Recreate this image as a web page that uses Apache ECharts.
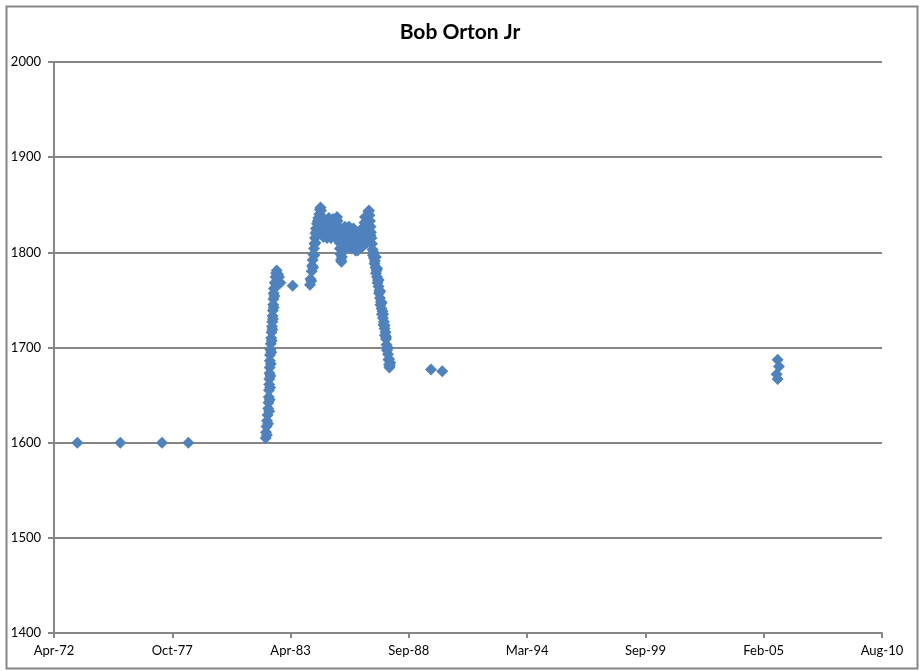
<!DOCTYPE html>
<html><head><meta charset="utf-8">
<script src="https://cdn.jsdelivr.net/npm/echarts@6/dist/echarts.min.js"></script>
<style>html,body{margin:0;padding:0;background:#fff}#c{width:920px;height:671px}</style>
</head><body><div id="c"></div>
<script>
const chartTitle = 'Bob Orton Jr';
// Dates stored as Excel serial day numbers (as in the source sheet)
const dateSerials = [
  26804,27531,28236,28681,
  29989,29995,30003,30012,30022,30033,30037,30041,30045,30048,
  30051,30054,30057,30060,30062,30068,30075,30082,30089,30096,
  30101,30106,30111,30116,30120,30125,30129,30142,30156,30166,
  30175,30197,30214,30239,30445,
  30738,30747,30767,30775,30784,30795,30806,30815,30823,30832,
  30840,30857,30879,30895,30907,30916,
  30924,30933,30941,30950,30958,30966,30975,30984,30992,31001,
  31009,31018,31026,31035,31043,31051,31059,31068,31076,31085,
  31093,31101,31110,31119,31127,31136,31144,31153,31161,31170,
  31178,31186,31195,31203,31212,31220,31228,31237,31245,31254,
  31262,31270,31279,31287,31296,31304,31313,31321,
  31330,31339,31347,31356,31364,31372,31381,31389,31397,31406,
  31414,31423,31431,31440,31448,31457,31465,31474,31482,31491,
  31499,31508,31516,31525,31533,31541,31550,31558,
  31566,31583,31600,31609,31617,31626,31634,31643,31651,31660,
  31668,31677,31685,31694,31702,31710,31719,31727,31735,31744,
  31752,31761,31769,31778,31786,31795,
  31803,31812,31820,31829,31837,31846,31854,31863,31871,31880,
  31888,31897,31905,31913,31921,31930,31938,31947,31955,31964,
  31972,31981,31989,31998,32006,32015,32023,32032,32040,32049,
  32057,32066,32074,32082,32090,
  32784,32975,38628,38645,38645,38667,
  30010,30030,30050,30058,30064,30070,30076,30084,30092,30102,
  30112,30124,30136,30150,30186,
  30760,30790,30812,30830,30850,30870,
  31650,31670,31700,31720,31740,31760,
  31850,31875,31900,31925,31950,31975,32000,32025,32050,32075,
  32095
];
const ratings = [
  1600,1600,1600,1600,
  1605,1611,1617,1623,1629,1636,1642,1648,1655,1661,
  1667,1673,1679,1686,1692,1698,1704,1710,1716,1722,
  1727,1733,1739,1745,1751,1757,1762,1768,1774,1778,
  1781,1777,1774,1768,1765,
  1766,1772,1780,1786,1792,1798,1804,1809,1815,1820,
  1825,1830,1836,1840,1845,1847,
  1844,1838,1832,1826,1820,1816,1822,1828,1833,1829,
  1823,1817,1815,1821,1827,1833,1836,1831,1825,1819,
  1815,1821,1827,1833,1835,1829,1823,1817,1816,1822,
  1828,1834,1837,1833,1828,1822,1816,1810,1804,1798,
  1792,1790,1795,1801,1807,1813,1819,1824,
  1827,1821,1815,1809,1805,1811,1817,1823,1827,1826,
  1820,1814,1808,1804,1810,1816,1822,1825,1819,1813,
  1807,1802,1806,1810,1806,1802,1803,1808,
  1812,1818,1824,1818,1812,1806,1812,1818,1825,1831,
  1837,1832,1826,1820,1826,1832,1838,1843,1844,1839,
  1833,1827,1821,1815,1809,1803,
  1797,1800,1794,1788,1791,1784,1778,1781,1774,1768,
  1771,1764,1757,1760,1752,1745,1748,1741,1735,1738,
  1731,1724,1727,1720,1713,1716,1709,1703,1697,1700,
  1693,1687,1682,1679,1681,
  1677,1675,1672,1687,1667,1680,
  1608,1620,1633,1645,1658,1670,1683,1695,1707,1719,
  1730,1742,1754,1763,1771,
  1770,1784,1797,1810,1822,1833,
  1808,1815,1810,1822,1828,1818,
  1795,1783,1771,1759,1747,1735,1723,1711,1699,1688,
  1684
];
const xTickLabels = ['Apr-72','Oct-77','Apr-83','Sep-88','Mar-94','Sep-99','Feb-05','Aug-10'];
const xAxisStartSerial = 26410; // serial of the Apr-72 tick
const xTickStep = 2000;         // days between ticks
const yMin = 1400, yMax = 2000, yStep = 100;

const points = dateSerials.map((d, i) => [d - xAxisStartSerial, ratings[i]]);
const gray = '#868686';
const font = 'Lato, "Liberation Sans", sans-serif';

const chart = echarts.init(document.getElementById('c'), null, {renderer: 'canvas'});
chart.setOption({
  animation: false,
  backgroundColor: '#fff',
  title: {
    text: chartTitle, left: 'center', top: 17,
    textStyle: {fontFamily: font, fontWeight: 'bold', fontSize: 21, color: '#000'}
  },
  graphic: [{
    type: 'rect', left: 4, top: 4, silent: true,
    shape: {x: 0, y: 0, width: 911, height: 662},
    style: {fill: 'none', stroke: gray, lineWidth: 2}
  }],
  grid: {left: 54, right: 38, top: 62, bottom: 38, containLabel: false},
  xAxis: {
    type: 'value', min: 0, max: xTickStep * (xTickLabels.length - 1), interval: xTickStep,
    axisLine: {show: true, lineStyle: {color: gray, width: 2}},
    axisTick: {show: true, length: 5, lineStyle: {color: gray, width: 2}},
    splitLine: {show: false},
    axisLabel: {
      margin: 11, color: '#000', fontFamily: font, fontSize: 13,
      formatter: v => xTickLabels[Math.round(v / xTickStep)] || ''
    }
  },
  yAxis: {
    type: 'value', min: yMin, max: yMax, interval: yStep,
    axisLine: {show: true, lineStyle: {color: gray, width: 2}},
    axisTick: {show: true, length: 6, lineStyle: {color: gray, width: 2}},
    splitLine: {show: true, lineStyle: {color: gray, width: 2}},
    axisLabel: {margin: 13, color: '#000', fontFamily: font, fontSize: 13, formatter: v => String(v)}
  },
  series: [{
    type: 'scatter', data: points, symbol: 'diamond', symbolSize: 12,
    itemStyle: {color: '#4F81BD', opacity: 1}
  }]
});
</script>
</body></html>
